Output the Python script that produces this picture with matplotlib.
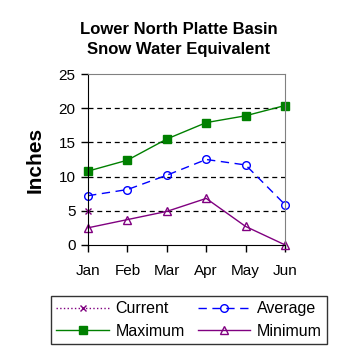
import numpy as np
import matplotlib
matplotlib.use('Agg')
from matplotlib import pyplot as plt

plt.rcParams['font.family'] = ['Liberation Sans', 'DejaVu Sans']

months = ['Jan', 'Feb', 'Mar', 'Apr', 'May', 'Jun']
current = [5.0, np.nan, np.nan, np.nan, np.nan, np.nan]
average = [7.2, 8.1, 10.2, 12.5, 11.7, 5.9]
maximum = [10.8, 12.4, 15.5, 17.9, 18.9, 20.4]
minimum = [2.5, 3.7, 4.9, 6.8, 2.7, 0.0]

fig = plt.figure(figsize=(3.58, 3.58), dpi=100)
ax = fig.add_axes([0.246, 0.316, 0.55, 0.477])
x = np.arange(len(months))

l_cur, = ax.plot(x, current, color='#800080', linestyle=':', linewidth=1, marker='x',
                 markersize=5, label='Current')
l_avg, = ax.plot(x, average, color='#0000ff', linestyle=(0, (6, 4)), linewidth=1, marker='o',
                 markersize=5.5, markerfacecolor='none', label='Average')
l_max, = ax.plot(x, maximum, color='#008000', linewidth=1, marker='s',
                 markersize=5.5, label='Maximum')
l_min, = ax.plot(x, minimum, color='#800080', linewidth=1, marker='^',
                 markersize=6, markerfacecolor='none', label='Minimum')

ax.set_xlim(0, 5)
ax.set_ylim(0, 25)
ax.set_yticks([0, 5, 10, 15, 20, 25])
ax.set_xticks(x)
ax.set_xticklabels(months)
ax.tick_params(labelsize=11, direction='out', length=5, width=1, color='black', pad=4)
ax.tick_params(axis='x', pad=9)
for v in [5, 10, 15, 20]:
    ax.axhline(v, color='black', linestyle=(0, (4, 3)), linewidth=0.9, zorder=0)
for side in ['top', 'right']:
    ax.spines[side].set_color('#808080')
for side in ['left', 'bottom']:
    ax.spines[side].set_color('black')
for m in ax.lines:
    m.set_clip_on(False)

ax.set_ylabel('Inches', fontsize=15, fontweight='bold', labelpad=10)
fig.text(0.5, 0.89, 'Lower North Platte Basin\nSnow Water Equivalent', ha='center', va='center',
         fontsize=12, fontweight='bold', linespacing=1.45)

leg = fig.legend([l_cur, l_max, l_avg, l_min], ['Current', 'Maximum', 'Average', 'Minimum'],
                 loc='center', bbox_to_anchor=(0.528, 0.106), ncol=2, fontsize=11.5,
                 frameon=True, fancybox=False, edgecolor='black', handlelength=3.3,
                 columnspacing=0.8, handletextpad=0.4, borderpad=0.35, labelspacing=0.45)
leg.get_frame().set_linewidth(1)

fig.savefig('out.png', dpi=100)
